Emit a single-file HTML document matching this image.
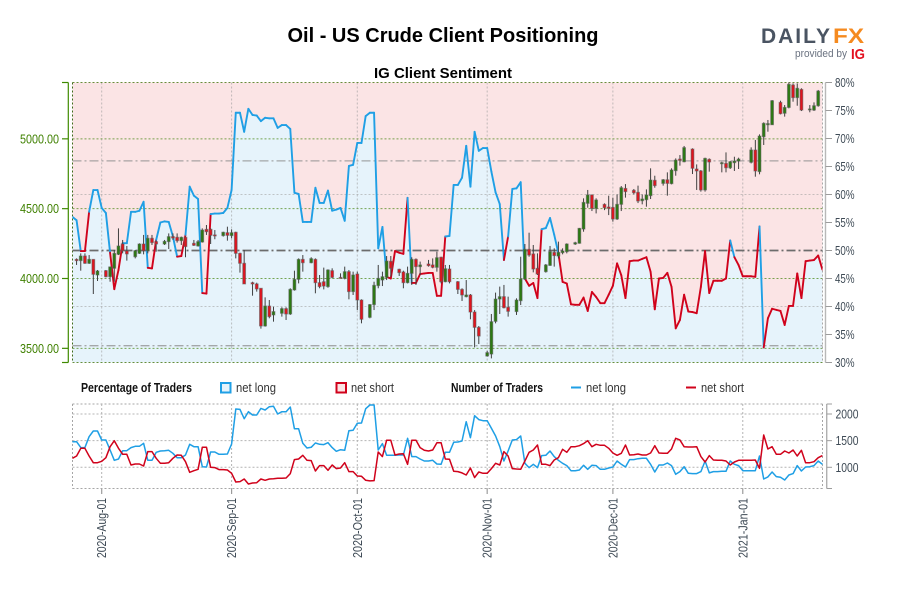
<!DOCTYPE html>
<html lang="en">
<head>
<meta charset="utf-8">
<title>Oil - US Crude Client Positioning</title>
<style>
html,body{margin:0;padding:0;background:#fff;}
svg{display:block;}
text{font-family:"Liberation Sans",Arial,sans-serif;}
</style>
</head>
<body>
<svg id="chart" xmlns="http://www.w3.org/2000/svg" width="900" height="600" viewBox="0 0 900 600">
  <rect x="0" y="0" width="900" height="600" fill="#ffffff"/>
  <text x="443" y="42" text-anchor="middle" font-size="20" font-weight="700" fill="#000" textLength="311" lengthAdjust="spacingAndGlyphs">Oil - US Crude Client Positioning</text>
  <text x="443" y="78" text-anchor="middle" font-size="15" font-weight="700" fill="#000" textLength="138" lengthAdjust="spacingAndGlyphs">IG Client Sentiment</text>

  <g>
    <text x="761" y="43" font-size="21" font-weight="700" fill="#4a5462" textLength="69" lengthAdjust="spacing">DAILY</text>
    <text x="833" y="43" font-size="21" font-weight="700" fill="#f58a1f" textLength="31" lengthAdjust="spacingAndGlyphs">FX</text>
    <text x="795" y="57" font-size="11" fill="#6a7280" textLength="52" lengthAdjust="spacingAndGlyphs">provided by</text>
    <text x="851" y="59" font-size="15" font-weight="700" fill="#e3101f" textLength="14" lengthAdjust="spacingAndGlyphs">IG</text>
  </g>

  <defs>
    <clipPath id="plot-clip"><rect x="72.5" y="82.5" width="750" height="280"/></clipPath>
  </defs>

  <rect x="72.5" y="82.5" width="750" height="280" fill="#fbe4e5"/>
  <g id="main-area" clip-path="url(#plot-clip)"></g>
  <g id="main-grid"></g>
  <g id="main-lines" clip-path="url(#plot-clip)"></g>
  <g id="main-candles" clip-path="url(#plot-clip)"></g>
  <g id="main-axes"></g>

  <g>
    <text x="81" y="392" font-size="13" font-weight="700" fill="#111" textLength="111" lengthAdjust="spacingAndGlyphs">Percentage of Traders</text>
    <rect x="221" y="383" width="9.5" height="9.5" fill="#e6f3fb" stroke="#1f9fe5" stroke-width="2"/>
    <text x="236" y="392" font-size="13" fill="#333" textLength="40" lengthAdjust="spacingAndGlyphs">net long</text>
    <rect x="336.500" y="383" width="9.5" height="9.5" fill="#fbe4e5" stroke="#d0021b" stroke-width="2"/>
    <text x="351" y="392" font-size="13" fill="#333" textLength="43" lengthAdjust="spacingAndGlyphs">net short</text>
    <text x="451" y="392" font-size="13" font-weight="700" fill="#111" textLength="92" lengthAdjust="spacingAndGlyphs">Number of Traders</text>
    <line x1="571" x2="581" y1="387.5" y2="387.5" stroke="#1f9fe5" stroke-width="2"/>
    <text x="586" y="392" font-size="13" fill="#333" textLength="40" lengthAdjust="spacingAndGlyphs">net long</text>
    <line x1="686" x2="696" y1="387.5" y2="387.5" stroke="#d0021b" stroke-width="2"/>
    <text x="701" y="392" font-size="13" fill="#333" textLength="43" lengthAdjust="spacingAndGlyphs">net short</text>
  </g>

  <g id="lower-grid"></g>
  <g id="lower-lines"></g>
  <g id="lower-axes"></g>
</svg>

<script>
// ---- categories / ticks ----
const firstSeriesDay = -7; // days relative to 2020-08-01; series below hold one value per calendar day
const dateTickLabels = ['2020-Aug-01','2020-Sep-01','2020-Oct-01','2020-Nov-01','2020-Dec-01','2021-Jan-01'];
const dateTickDays = [0,31,61,92,122,153];
const priceTicks = [5000,4500,4000,3500];
const percentTicks = [80,75,70,65,60,55,50,45,40,35,30];
const traderTicks = [2000,1500,1000];
const referenceLevels = [66,33];

// ---- net long percentage, daily ----
const netLongPct = [
56.0,55.4,49.9,49.9,56.9,60.8,60.8,
57.6,56.7,49.6,43.1,46.5,51.3,51.3,
56.9,56.9,57.1,58.7,46.9,46.8,51.9,
55.0,55.2,55.1,52.5,48.9,49.0,52.8,
61.4,59.8,59.2,42.4,42.3,56.5,56.6,
56.6,56.7,57.6,60.8,74.6,74.6,71.2,
75.3,74.2,74.1,73.1,73.7,73.6,73.6,
71.9,72.4,72.4,71.7,60.3,60.1,55.1,
55.1,55.1,61.2,58.5,58.5,60.7,57.1,
57.3,57.6,55.3,65.1,65.3,69.2,69.2,
74.0,74.6,74.6,50.4,54.2,45.3,45.0,
49.9,49.6,49.4,59.4,44.2,44.2,45.8,
45.9,46.0,46.0,41.9,41.9,52.5,52.6,
61.7,61.7,63.0,68.7,61.4,71.2,67.8,
68.3,68.3,64.1,60.4,58.3,48.3,52.5,
61.0,61.1,62.2,45.0,43.7,44.2,41.5,
53.8,54.0,55.8,52.8,49.5,44.4,44.1,
40.4,40.3,40.3,41.6,39.2,42.6,41.7,
40.6,40.6,42.1,43.7,47.7,45.6,41.5,
48.1,48.2,48.2,48.5,48.8,46.2,39.5,
45.0,45.1,46.0,43.5,36.1,37.6,42.1,
39.1,39.0,38.8,43.5,49.9,42.4,44.6,
44.6,44.6,45.0,51.8,48.8,47.4,45.4,
45.4,45.4,45.3,54.3,32.7,37.9,39.6,
39.4,39.2,36.7,40.1,40.1,45.9,41.5,
48.1,48.2,48.3,49.1,46.6
];

// ---- number of traders, daily ----
const netLongTraders = [
1481,1481,1369,1369,1575,1681,1681,
1512,1512,1325,1131,1156,1312,1312,
1369,1394,1394,1450,1131,1131,1281,
1306,1312,1319,1262,1181,1181,1231,
1431,1387,1387,1012,1006,1287,1287,
1244,1244,1250,1437,2094,2087,1912,
2044,1981,1981,2106,2075,2137,2144,
2000,2044,2044,2131,1725,1725,1450,
1362,1375,1456,1431,1425,1462,1369,
1300,1331,1319,1687,1694,1825,1831,
2100,2169,2169,1325,1444,1225,1225,
1225,1231,1231,1544,1200,1200,1156,
1119,1119,1131,1062,1056,1281,1281,
1469,1475,1494,1856,1556,1969,1894,
1875,1875,1731,1587,1387,1119,1306,
1512,1519,1587,1075,994,1056,994,
1219,1225,1306,1200,1131,1075,1031,
937,937,950,1037,962,1037,1031,
962,962,987,1006,1119,1056,1006,
1144,1144,1162,1169,1169,1056,912,
1044,1044,1081,1031,869,919,1012,
887,881,881,919,1119,894,919,
919,925,925,1119,1056,1031,937,
937,937,937,1212,781,819,912,
825,812,762,856,881,1031,931,
1006,1012,1031,1119,1056
];
const netShortTraders = [
1169,1212,1356,1356,1212,1087,1087,
1112,1181,1387,1500,1356,1244,1244,
1044,1062,1062,1025,1294,1294,1169,
1075,1075,1087,1169,1231,1225,1106,
906,937,962,1375,1375,1000,994,
956,956,950,887,725,731,781,
687,706,712,781,756,781,787,
794,794,800,881,1144,1156,1225,
1131,1125,931,1031,1031,944,1044,
975,987,1087,919,919,837,831,
756,744,750,1287,1200,1506,1506,
1231,1250,1256,1056,1506,1506,1369,
1319,1306,1325,1462,1462,1156,1150,
925,919,894,856,987,806,912,
887,887,975,1075,1044,1294,1212,
975,969,962,1119,1281,1325,1419,
1056,1056,1031,1137,1181,1337,1281,
1387,1387,1406,1444,1500,1387,1431,
1412,1412,1356,1269,1225,1262,1419,
1231,1237,1250,1231,1231,1269,1406,
1269,1262,1262,1344,1544,1512,1387,
1381,1381,1387,1200,1100,1219,1137,
1131,1131,1119,1044,1100,1131,1131,
1131,1131,1137,981,1606,1344,1387,
1244,1244,1306,1269,1325,1212,1319,
1087,1087,1106,1181,1219
];

// ---- price candles: days relative to 2020-08-01 ----
const candleDays = [
-6,-5,-4,-3,-2,-1,
1,2,3,4,5,6,
8,9,10,11,12,13,
15,16,17,18,19,20,
22,23,24,25,26,27,
29,30,31,32,33,34,
36,37,38,39,40,41,
43,44,45,46,47,48,
50,51,52,53,54,55,
57,58,59,60,61,62,
64,65,66,67,68,69,
71,72,73,74,75,76,
78,79,80,81,82,83,
85,86,87,88,89,90,
92,93,94,95,96,97,
99,100,101,102,103,104,
106,107,108,109,110,111,
113,114,115,116,117,118,
120,121,122,123,124,125,
127,128,129,130,131,132,
134,135,136,137,138,139,
141,142,143,144,145,
148,149,150,151,152,
155,156,157,158,159,160,
162,163,164,165,166,167,
169,170,171
];
const priceOpen = [
4137,4128,4161,4109,4137,4025,
4056,4013,4073,4173,4247,4197,
4156,4180,4247,4199,4288,4264,
4247,4264,4300,4295,4271,4295,
4252,4233,4261,4352,4352,4312,
4307,4328,4307,4331,4180,4109,
3970,3961,3930,3660,3803,3739,
3751,3784,3746,3918,3994,4137,
4113,4137,3970,3977,3942,4056,
4008,4001,4049,3906,4032,3846,
3722,3813,3949,3989,4008,4123,
4066,4047,3970,4037,4137,4085,
4104,4097,4080,4152,3977,4068,
3977,3922,3870,3882,3760,3650,
3445,3459,3693,3853,3870,3794,
3763,3841,3996,4209,4176,4073,
4049,4094,4187,4161,4185,4192,
4247,4252,4354,4538,4598,4502,
4531,4512,4509,4426,4531,4645,
4631,4617,4557,4564,4593,4703,
4681,4707,4679,4772,4855,4836,
4927,4784,4770,4634,4853,
4824,4824,4793,4829,4841,
4832,4920,4765,5015,5101,5101,
5261,5183,5225,5385,5295,5354,
5209,5206,5237
];
const priceHigh = [
4144,4180,4180,4168,4137,4061,
4061,4085,4204,4359,4276,4233,
4204,4252,4312,4312,4312,4271,
4276,4323,4323,4323,4300,4300,
4276,4276,4359,4383,4359,4347,
4335,4371,4352,4335,4185,4204,
3977,3970,3930,3865,3846,3798,
3794,3794,3930,4056,4144,4168,
4152,4144,4025,4078,4066,4073,
4037,4085,4061,4049,4049,3851,
3817,3977,4097,4049,4161,4161,
4070,4056,4085,4152,4144,4121,
4133,4144,4192,4156,4097,4097,
3982,3930,3989,3889,3774,3660,
3483,3746,3899,3942,3954,3870,
3858,4156,4247,4328,4240,4180,
4104,4233,4216,4264,4216,4252,
4263,4362,4574,4634,4602,4574,
4538,4593,4579,4602,4662,4676,
4641,4665,4602,4638,4789,4736,
4712,4760,4789,4860,4884,4949,
4932,4817,4777,4865,4860,
4836,4903,4841,4872,4865,
4939,4992,5032,5118,5135,5278,
5273,5242,5405,5397,5397,5362,
5242,5261,5350
];
const priceLow = [
4097,4056,4105,4104,3889,3982,
4008,3977,3977,4168,4180,4128,
4144,4176,4173,4180,4240,4192,
4240,4211,4276,4257,4240,4152,
4233,4228,4257,4312,4247,4281,
4300,4271,4288,4144,4042,3961,
3877,3906,3641,3655,3715,3691,
3727,3703,3739,3913,3965,4049,
4109,3894,3930,3922,3934,4001,
4001,3994,3851,3882,3774,3679,
3715,3774,3930,3946,3989,4013,
4018,3930,3965,3954,3954,4025,
4085,4073,4049,3965,3973,3965,
3889,3839,3865,3708,3507,3531,
3440,3428,3679,3746,3786,3727,
3739,3810,3989,4156,4044,4025,
4042,4090,4085,4144,4173,4180,
4240,4250,4335,4507,4483,4466,
4490,4454,4407,4419,4483,4579,
4602,4540,4531,4514,4569,4650,
4665,4593,4674,4736,4808,4832,
4748,4634,4622,4622,4765,
4760,4760,4784,4770,4784,
4824,4729,4746,4956,5051,5099,
5175,5159,5218,5266,5237,5199,
5190,5199,5230
];
const priceClose = [
4128,4161,4109,4137,4030,4054,
4013,4083,4180,4233,4199,4176,
4199,4247,4199,4288,4257,4247,
4266,4300,4290,4271,4295,4228,
4238,4264,4347,4335,4309,4307,
4331,4309,4328,4180,4109,3961,
3961,3925,3660,3803,3727,3763,
3784,3746,3922,3994,4137,4113,
4142,3970,3942,3946,4061,4008,
4004,4049,3906,4025,3846,3708,
3813,3951,4001,4013,4125,4073,
4042,3970,4037,4137,4085,4097,
4092,4080,4149,3977,4070,3977,
3922,3882,3882,3760,3650,3588,
3469,3691,3853,3870,3791,3765,
3846,3996,4209,4168,4068,4032,
4097,4192,4164,4187,4197,4247,
4256,4359,4545,4598,4502,4562,
4507,4502,4426,4531,4650,4622,
4614,4555,4569,4598,4705,4665,
4707,4681,4777,4848,4846,4937,
4789,4770,4634,4860,4834,
4829,4793,4836,4841,4855,
4920,4770,5020,5111,5109,5273,
5180,5225,5390,5295,5362,5206,
5214,5237,5342
];

// ---- axis functions ----
const SVG_NS = 'http://www.w3.org/2000/svg';
const xDay = d => 101.7 + 4.19 * d;
const yPct = p => 82.5 + (80 - p) * 5.6;
const yPrice = v => 278.5 - (v - 4000) / 7.16;
const yTraders = v => 467.3 - (v - 1000) * 0.0533;
const seriesDay = i => firstSeriesDay + i;

function make(tag, parent, attrs, content) {
  const node = document.createElementNS(SVG_NS, tag);
  for (const key in attrs) node.setAttribute(key, attrs[key]);
  if (content !== undefined) node.textContent = content;
  parent.appendChild(node);
  return node;
}
const pathFrom = (values, yFn) => values.map((v, i) => (i ? 'L' : 'M') + xDay(seriesDay(i)).toFixed(1) + ' ' + yFn(v).toFixed(1)).join(' ');

const mainArea = document.getElementById('main-area');
const mainGrid = document.getElementById('main-grid');
const mainLines = document.getElementById('main-lines');
const mainCandles = document.getElementById('main-candles');
const mainAxes = document.getElementById('main-axes');
const lowerGrid = document.getElementById('lower-grid');
const lowerLines = document.getElementById('lower-lines');
const lowerAxes = document.getElementById('lower-axes');

// net long area
const lastI = netLongPct.length - 1;
let areaEl = make('path', mainArea, {
  d: pathFrom(netLongPct, yPct) + ' L' + xDay(seriesDay(lastI)).toFixed(1) + ' 362.5 L' + xDay(seriesDay(0)).toFixed(1) + ' 362.5 Z',
  fill: '#e6f3fb'
});



// main grid
dateTickDays.forEach(function (d) {
  const g = make('line', mainGrid, {x1: xDay(d), x2: xDay(d), y1: 82.5, y2: 362.5, stroke: '#9a9a9a', 'stroke-opacity': 0.6, 'stroke-dasharray': '2 2'});
  
  
});
[60, 40].forEach(function (p) {
  const g = make('line', mainGrid, {x1: 72.5, x2: 822.5, y1: yPct(p), y2: yPct(p), stroke: '#9a9a9a', 'stroke-opacity': 0.55, 'stroke-dasharray': '2 2'});
  
  
});
priceTicks.forEach(function (v) {
  const g = make('line', mainGrid, {x1: 72.5, x2: 822.5, y1: yPrice(v), y2: yPrice(v), stroke: '#4d8a1a', 'stroke-opacity': 0.75, 'stroke-dasharray': '2 2'});
  
  
});
[82.5, 362.5].forEach(function (y) {
  const g = make('line', mainGrid, {x1: 72.5, x2: 822.5, y1: y, y2: y, stroke: '#4d7a1a', 'stroke-opacity': 0.85, 'stroke-dasharray': '2 2'});
  
  
});
const leftEdge = make('line', mainGrid, {x1: 72.5, x2: 72.5, y1: 82.5, y2: 362.5, stroke: '#3f6a1a', 'stroke-dasharray': '2 2'});


const rightEdge = make('line', mainGrid, {x1: 822.5, x2: 822.5, y1: 82.5, y2: 362.5, stroke: '#a8a8a8', 'stroke-dasharray': '2 2'});



// reference levels
referenceLevels.forEach(function (p) {
  const g = make('line', mainGrid, {x1: 72.5, x2: 822.5, y1: yPct(p), y2: yPct(p), stroke: '#8e8e8e', 'stroke-opacity': 0.75, 'stroke-width': 1.3, 'stroke-dasharray': '9 3 2 3'});
  
  
});
const fiftyLine = make('line', mainGrid, {x1: 72.5, x2: 822.5, y1: yPct(50), y2: yPct(50), stroke: '#6c6c6c', 'stroke-width': 1.7, 'stroke-dasharray': '9 3 2 3'});



// sentiment line: each segment takes its colour from the day it starts on
netLongPct.forEach(function (p, i) {
  if (i === lastI) return;
  const isLong = p >= 50;
  const seg = make('line', mainLines, {
    x1: xDay(seriesDay(i)), y1: yPct(p),
    x2: xDay(seriesDay(i + 1)), y2: yPct(netLongPct[i + 1]),
    stroke: isLong ? '#1f9fe5' : '#d0021b', 'stroke-width': 1.9, 'stroke-linecap': 'round'
  });
  
  
});

// candles
candleDays.forEach(function (d, i) {
  const x = xDay(d);
  const o = priceOpen[i], h = priceHigh[i], l = priceLow[i], c = priceClose[i];
  const up = c >= o;
  const group = make('g', mainCandles, {});
  
  
  const wick = make('line', group, {x1: x, x2: x, y1: yPrice(h), y2: yPrice(l), stroke: '#404040', 'stroke-width': 1});
  
  
  const top = yPrice(Math.max(o, c));
  const bodyH = Math.max(Math.abs(yPrice(o) - yPrice(c)), 1);
  const body = make('rect', group, {x: x - 1.4, y: top, width: 2.8, height: bodyH, fill: up ? '#2c7a12' : '#e0141e', stroke: '#5a5a5a', 'stroke-opacity': 0.55, 'stroke-width': 1});
  
  
});

// left price axis
const priceAxis = make('line', mainAxes, {x1: 68.3, x2: 68.3, y1: 82.5, y2: 362.5, stroke: '#3f8a00', 'stroke-width': 1.2});


[82.5, 362.5].forEach(function (y) {
  const t = make('line', mainAxes, {x1: 62, x2: 68.3, y1: y, y2: y, stroke: '#3f8a00', 'stroke-width': 1.2});
  
  
});
priceTicks.forEach(function (v) {
  const y = yPrice(v);
  const t = make('line', mainAxes, {x1: 62, x2: 68.3, y1: y, y2: y, stroke: '#3f8a00', 'stroke-width': 1.2});
  
  
  const lbl = make('text', mainAxes, {x: 20, y: y + 4.5, 'font-size': 13, fill: '#3f8000', textLength: 39, lengthAdjust: 'spacingAndGlyphs'}, v.toFixed(2));
  
  
});

// right percent axis
const pctAxis = make('line', mainAxes, {x1: 825.5, x2: 825.5, y1: 82.5, y2: 362.5, stroke: '#b8b8b8', 'stroke-width': 1.4});


percentTicks.forEach(function (p) {
  const y = yPct(p);
  const t = make('line', mainAxes, {x1: 825.5, x2: 832, y1: y, y2: y, stroke: '#9c9c9c', 'stroke-width': 1});
  
  
  const lbl = make('text', mainAxes, {x: 835, y: y + 4.5, 'font-size': 13, fill: '#3e4a55', textLength: 19.5, lengthAdjust: 'spacingAndGlyphs'}, p + '%');
  
  
});

// lower panel grid
[404, 488.5].forEach(function (y) {
  const g = make('line', lowerGrid, {x1: 72.5, x2: 822.5, y1: y, y2: y, stroke: '#a6a6a6', 'stroke-dasharray': '2 2'});
  
  
});
[72.5, 822.5].forEach(function (x) {
  const g = make('line', lowerGrid, {x1: x, x2: x, y1: 404, y2: 488.5, stroke: '#a6a6a6', 'stroke-dasharray': '2 2'});
  
  
});
traderTicks.forEach(function (v) {
  const g = make('line', lowerGrid, {x1: 72.5, x2: 822.5, y1: yTraders(v), y2: yTraders(v), stroke: '#b4b4b4', 'stroke-dasharray': '2 2'});
  
  
});
dateTickDays.forEach(function (d) {
  const g = make('line', lowerGrid, {x1: xDay(d), x2: xDay(d), y1: 404, y2: 488.5, stroke: '#b4b4b4', 'stroke-dasharray': '2 2'});
  
  
});

// trader lines
const longTradersLine = make('path', lowerLines, {d: pathFrom(netLongTraders, yTraders), fill: 'none', stroke: '#1f9fe5', 'stroke-width': 1.5, 'stroke-linejoin': 'round'});


const shortTradersLine = make('path', lowerLines, {d: pathFrom(netShortTraders, yTraders), fill: 'none', stroke: '#d0021b', 'stroke-width': 1.5, 'stroke-linejoin': 'round'});



// lower axes
const traderAxis = make('line', lowerAxes, {x1: 826.7, x2: 826.7, y1: 404, y2: 488.5, stroke: '#b0b0b0', 'stroke-width': 1.4});


[404, 488.5].forEach(function (y) {
  const t = make('line', lowerAxes, {x1: 826.7, x2: 832, y1: y, y2: y, stroke: '#9c9c9c'});
  
  
});
traderTicks.forEach(function (v) {
  const y = yTraders(v);
  const t = make('line', lowerAxes, {x1: 826.7, x2: 832, y1: y, y2: y, stroke: '#9c9c9c'});
  
  
  const lbl = make('text', lowerAxes, {x: 835.5, y: y + 4.5, 'font-size': 13, fill: '#3e4a55', textLength: 23, lengthAdjust: 'spacingAndGlyphs'}, String(v));
  
  
});
dateTickDays.forEach(function (d, i) {
  const x = xDay(d);
  const t = make('line', lowerAxes, {x1: x, x2: x, y1: 488.5, y2: 494, stroke: '#9c9c9c', 'stroke-width': 1.2});
  
  
  const lbl = make('text', lowerAxes, {transform: 'translate(' + (x + 4.5) + ',558) rotate(-90)', x: 0, y: 0, 'font-size': 13, fill: '#3e4a55', textLength: 60, lengthAdjust: 'spacingAndGlyphs'}, dateTickLabels[i]);
  
  
});
</script>
</body>
</html>
